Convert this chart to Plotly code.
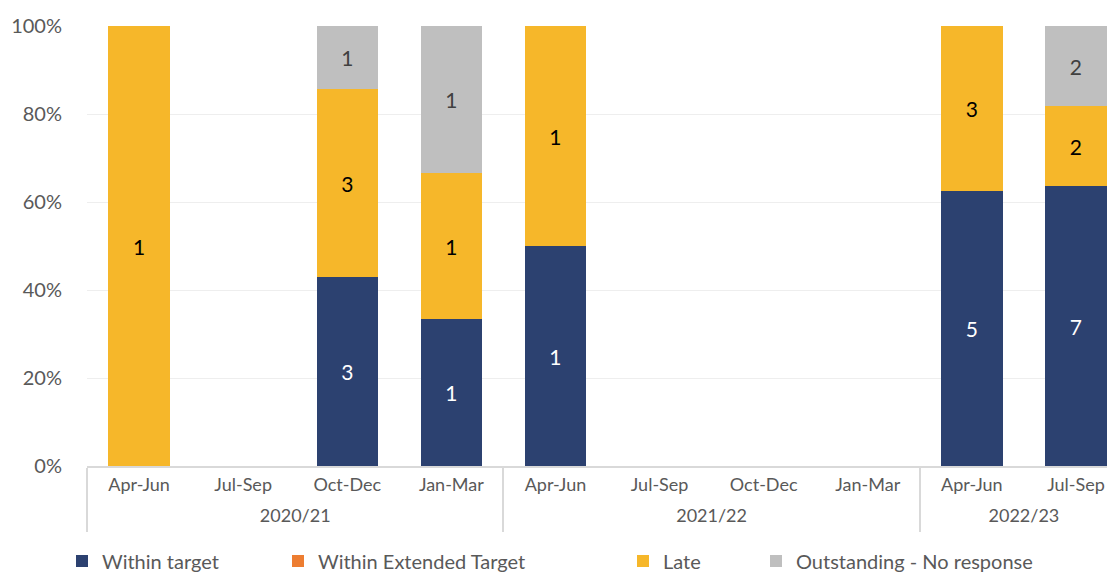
import plotly.graph_objects as go

years = ["2020/21"] * 4 + ["2021/22"] * 4 + ["2022/23"] * 2
quarters = ["Apr-Jun", "Jul-Sep", "Oct-Dec", "Jan-Mar",
            "Apr-Jun", "Jul-Sep", "Oct-Dec", "Jan-Mar",
            "Apr-Jun", "Jul-Sep"]

within_target = [0, 0, 3, 1, 1, 0, 0, 0, 5, 7]
within_extended = [0, 0, 0, 0, 0, 0, 0, 0, 0, 0]
late = [1, 0, 3, 1, 1, 0, 0, 0, 3, 2]
outstanding = [0, 0, 1, 1, 0, 0, 0, 0, 0, 2]

series = [
    ("Within target", within_target, "#2C4170", "#FFFFFF", "legend"),
    ("Within Extended Target", within_extended, "#ED7D31", "#000000", "legend2"),
    ("Late", late, "#F6B72A", "#000000", "legend3"),
    ("Outstanding - No response", outstanding, "#BFBFBF", "#404040", "legend4"),
]

# category positions and year groups derived from the label lists
xpos = list(range(len(quarters)))
group_names, group_start, group_end = [], [], []
for i, yr in enumerate(years):
    if not group_names or group_names[-1] != yr:
        group_names.append(yr)
        group_start.append(i)
        group_end.append(i)
    else:
        group_end[-1] = i
group_centers = [(s + e) / 2 for s, e in zip(group_start, group_end)]
boundaries = [s - 0.5 for s in group_start] + [group_end[-1] + 0.5]

FONT = "Lato, Liberation Sans, sans-serif"
GREY_TXT = "#595959"
AXIS_GREY = "#D9D9D9"

fig = go.Figure()
for name, vals, color, tcolor, lg in series:
    fig.add_trace(go.Bar(
        x=xpos, y=vals, name=name,
        marker=dict(color=color, line=dict(width=0)),
        text=[str(v) if v else "" for v in vals],
        textposition="inside", insidetextanchor="middle", textangle=0,
        textfont=dict(color=tcolor, size=21, family=FONT),
        legend=lg, hoverinfo="skip",
    ))

# empty helper traces so the two label axes are drawn
for ax in ("x2", "x3"):
    fig.add_trace(go.Scatter(x=[], y=[], xaxis=ax, yaxis="y", mode="markers",
                             showlegend=False, hoverinfo="skip"))

# page is offset by the 8px body margin; layout compensates
L, R, T, B = 79, 8, 18, 116
W, H = 1115, 574
plot_w = W - L - R
def px2paper(px):
    return (px - 8 - L) / plot_w

legend_common = dict(orientation="h", yanchor="middle", y=-0.216, xref="paper",
                     font=dict(size=20, color=GREY_TXT, family=FONT),
                     bgcolor="rgba(0,0,0,0)", itemwidth=30)

xrange = [-0.5, 9.375]
fig.update_layout(
    width=W, height=H,
    barmode="stack", barnorm="percent", bargap=0.41,
    plot_bgcolor="white", paper_bgcolor="white",
    margin=dict(l=L, r=R, t=T, b=B, autoexpand=False),
    font=dict(family=FONT, color=GREY_TXT),
    showlegend=True,
    legend=dict(**legend_common, x=px2paper(62)),
    legend2=dict(**legend_common, x=px2paper(278)),
    legend3=dict(**legend_common, x=px2paper(623)),
    legend4=dict(**legend_common, x=px2paper(756)),
    yaxis=dict(range=[0, 100], dtick=20, ticksuffix="%",
               showgrid=True, gridcolor="#EEEEEE", gridwidth=1,
               zeroline=False, showline=False, automargin=False,
               tickfont=dict(size=20, color=GREY_TXT, family=FONT),
               ticklabelstandoff=24, ticks=""),
    xaxis=dict(range=xrange, automargin=False,
               showline=True, linecolor=AXIS_GREY, linewidth=1.5,
               tickmode="array", tickvals=boundaries, ticktext=[""] * len(boundaries),
               ticks="outside", ticklen=64, tickcolor=AXIS_GREY, tickwidth=1.5,
               showticklabels=False, showgrid=False, zeroline=False),
    xaxis2=dict(range=xrange, overlaying="x", anchor="y", side="bottom",
                automargin=False, showline=False, showgrid=False, zeroline=False,
                tickmode="array", tickvals=xpos, ticktext=quarters, ticks="",
                tickfont=dict(size=18, color=GREY_TXT, family=FONT),
                ticklabelstandoff=6),
    xaxis3=dict(range=xrange, overlaying="x", anchor="y", side="bottom",
                automargin=False, showline=False, showgrid=False, zeroline=False,
                tickmode="array", tickvals=group_centers, ticktext=group_names, ticks="",
                tickfont=dict(size=18, color=GREY_TXT, family=FONT),
                ticklabelstandoff=37),
)

fig.write_html("out.html")
